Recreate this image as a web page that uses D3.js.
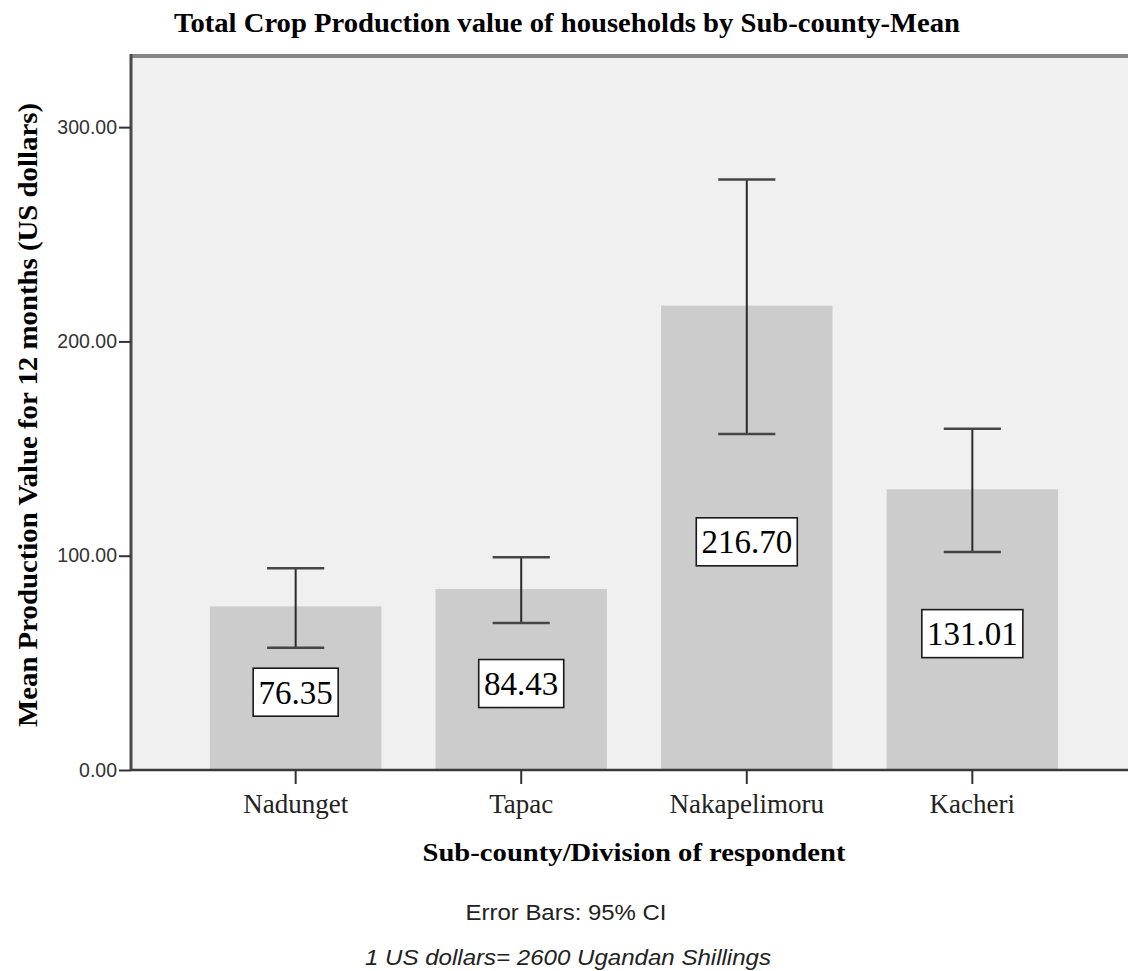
<!DOCTYPE html>
<html>
<head>
<meta charset="utf-8">
<script src="https://cdn.jsdelivr.net/npm/d3@7"></script>
<style>
  html, body { margin: 0; padding: 0; background: #ffffff; }
  svg { display: block; }
</style>
</head>
<body>
<svg id="chart" width="1128" height="971"></svg>
<script>
// ---- data ----
const categories = ["Nadunget", "Tapac", "Nakapelimoru", "Kacheri"];
const means = [76.35, 84.43, 216.70, 131.01];
const ciLower = [57.1, 68.6, 156.8, 101.7];
const ciUpper = [94.1, 99.3, 275.6, 159.3];
const yTicks = [0, 100, 200, 300];
const titleText = "Total Crop Production value of households by Sub-county-Mean";
const yTitle = "Mean Production Value for 12 months (US dollars)";
const xTitle = "Sub-county/Division of respondent";
const note1 = "Error Bars: 95% CI";
const note2 = "1 US dollars= 2600 Ugandan Shillings";

// ---- layout ----
const W = 1128, H = 971;
const plotLeft = 131, plotRight = 1137, plotTop = 56, plotBottom = 770;

const svg = d3.select("#chart");

const x = d3.scaleBand()
  .domain(categories)
  .range([plotLeft, plotRight])
  .paddingInner(0.24)
  .paddingOuter(0.35);

const y = d3.scaleLinear()
  .domain([0, 333.2])
  .range([plotBottom, plotTop]);

// plot background
svg.append("rect")
  .attr("x", plotLeft).attr("y", plotTop)
  .attr("width", W - plotLeft + 10).attr("height", plotBottom - plotTop)
  .attr("fill", "#f0f0f0");

// top frame line
svg.append("line")
  .attr("x1", plotLeft).attr("x2", W + 5)
  .attr("y1", plotTop).attr("y2", plotTop)
  .attr("stroke", "#858585").attr("stroke-width", 4);

// bars
svg.append("g").selectAll("rect")
  .data(categories)
  .join("rect")
  .attr("x", d => x(d))
  .attr("y", (d, i) => y(means[i]))
  .attr("width", x.bandwidth())
  .attr("height", (d, i) => y(0) - y(means[i]))
  .attr("fill", "#cccccc");

// error bars
const capW = x.bandwidth() / 3;
const eb = svg.append("g");
categories.forEach((c, i) => {
  const cx = x(c) + x.bandwidth() / 2;
  eb.append("line")
    .attr("x1", cx).attr("x2", cx)
    .attr("y1", y(ciUpper[i])).attr("y2", y(ciLower[i]))
    .attr("stroke", "#2a2a2a").attr("stroke-width", 2);
  [ciUpper[i], ciLower[i]].forEach(v => {
    eb.append("line")
      .attr("x1", cx - capW / 2).attr("x2", cx + capW / 2)
      .attr("y1", y(v)).attr("y2", y(v))
      .attr("stroke", "#454545").attr("stroke-width", 2.5);
  });
});

// value labels
const lab = svg.append("g");
categories.forEach((c, i) => {
  const cx = x(c) + x.bandwidth() / 2;
  const cy = y(means[i] / 2) + 4;
  const txt = means[i].toFixed(2);
  const t = lab.append("text")
    .attr("x", cx).attr("y", cy)
    .attr("text-anchor", "middle")
    .attr("dy", "0.35em")
    .attr("font-family", "Liberation Serif, Times New Roman, serif")
    .attr("font-size", 33)
    .attr("fill", "#000")
    .text(txt);
  const bb = t.node().getBBox();
  const bw = txt.length >= 6 ? 101 : 85;
  const bh = 48;
  lab.insert("rect", "text")
    .attr("x", cx - bw / 2).attr("y", cy - bh / 2)
    .attr("width", bw).attr("height", bh)
    .attr("fill", "#ffffff")
    .attr("stroke", "#1a1a1a").attr("stroke-width", 1.6);
});

// y axis
const yAxis = d3.axisLeft(y)
  .tickValues(yTicks)
  .tickFormat(d3.format(".2f"))
  .tickSize(12)
  .tickPadding(2);
const gy = svg.append("g")
  .attr("transform", `translate(${plotLeft},0)`)
  .call(yAxis);
gy.select(".domain").attr("stroke", "#4a4a4a").attr("stroke-width", 3)
  .attr("d", `M0,${plotTop - 2}V${plotBottom + 1}`);
gy.selectAll(".tick line").attr("stroke", "#333").attr("stroke-width", 2);
gy.selectAll(".tick text")
  .attr("font-family", "Liberation Sans, Arial, sans-serif")
  .attr("font-size", 19.5)
  .attr("fill", "#333");

// x axis
const xAxis = d3.axisBottom(x).tickSize(14).tickPadding(4);
const gx = svg.append("g")
  .attr("transform", `translate(0,${plotBottom})`)
  .call(xAxis);
gx.select(".domain").attr("stroke", "#3a3a3a").attr("stroke-width", 2.5)
  .attr("d", `M${plotLeft},0H${W + 5}`);
gx.selectAll(".tick line").attr("stroke", "#333").attr("stroke-width", 2);
gx.selectAll(".tick text")
  .attr("font-family", "Liberation Serif, Times New Roman, serif")
  .attr("font-size", 27)
  .attr("fill", "#222")
  .attr("dy", 0)
  .attr("y", 43);

// title
svg.append("text")
  .attr("x", 567).attr("y", 32)
  .attr("text-anchor", "middle")
  .attr("font-family", "Liberation Serif, Times New Roman, serif")
  .attr("font-weight", "bold")
  .attr("font-size", 27)
  .attr("textLength", 786)
  .attr("lengthAdjust", "spacingAndGlyphs")
  .attr("fill", "#000")
  .text(titleText);

// y title
svg.append("text")
  .attr("transform", `translate(37,${(plotTop + plotBottom) / 2 + 2}) rotate(-90)`)
  .attr("text-anchor", "middle")
  .attr("font-family", "Liberation Serif, Times New Roman, serif")
  .attr("font-weight", "bold")
  .attr("font-size", 28)
  .attr("textLength", 624)
  .attr("lengthAdjust", "spacingAndGlyphs")
  .attr("fill", "#000")
  .text(yTitle);

// x title
svg.append("text")
  .attr("x", (plotLeft + plotRight) / 2).attr("y", 861)
  .attr("text-anchor", "middle")
  .attr("font-family", "Liberation Serif, Times New Roman, serif")
  .attr("font-weight", "bold")
  .attr("font-size", 26)
  .attr("textLength", 423)
  .attr("lengthAdjust", "spacingAndGlyphs")
  .attr("fill", "#000")
  .text(xTitle);

// notes
svg.append("text")
  .attr("x", 566).attr("y", 920)
  .attr("text-anchor", "middle")
  .attr("font-family", "Liberation Sans, Arial, sans-serif")
  .attr("font-size", 22)
  .attr("textLength", 201)
  .attr("lengthAdjust", "spacingAndGlyphs")
  .attr("fill", "#222")
  .text(note1);

svg.append("text")
  .attr("x", 568).attr("y", 965)
  .attr("text-anchor", "middle")
  .attr("font-family", "Liberation Sans, Arial, sans-serif")
  .attr("font-style", "italic")
  .attr("font-size", 22)
  .attr("textLength", 406)
  .attr("lengthAdjust", "spacingAndGlyphs")
  .attr("fill", "#222")
  .text(note2);
</script>
</body>
</html>
